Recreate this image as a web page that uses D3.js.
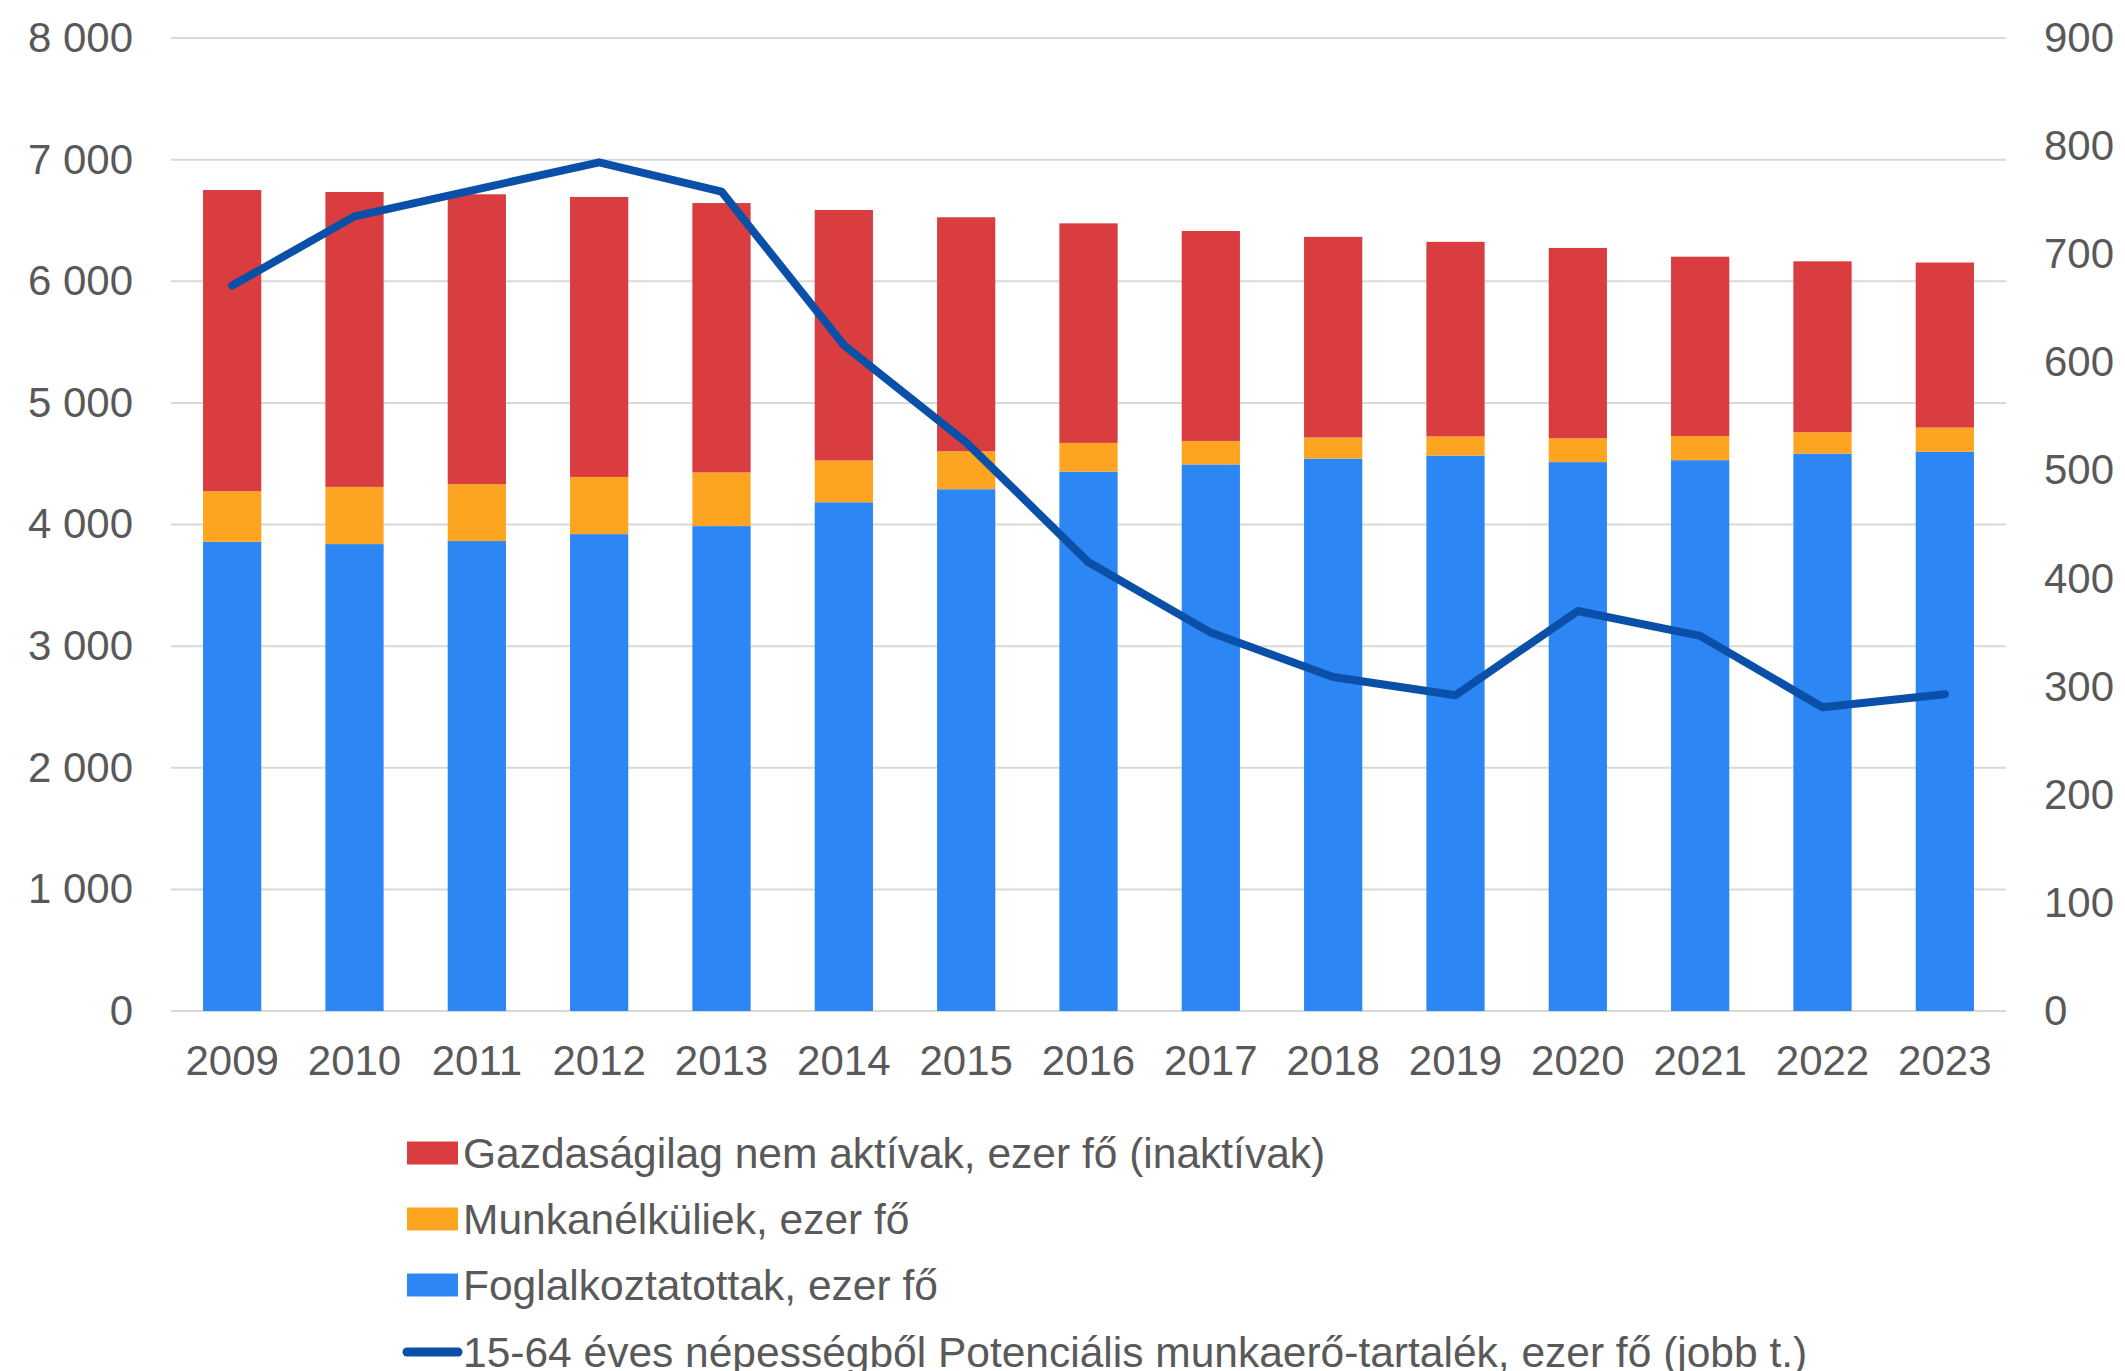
<!doctype html>
<html>
<head>
  <meta charset="UTF-8">
  <title>Munkaerőpiac</title>
  <script src="https://cdn.jsdelivr.net/npm/d3@7"></script>
  <style>
    html, body { margin: 0; padding: 0; background: #fff; overflow: hidden; }
    text { font-family: "Liberation Sans", Arial, sans-serif; fill: #595959; }
  </style>
</head>
<body>
<script>
  // data (ezer fő)
  var years = ["2009", "2010", "2011", "2012", "2013", "2014", "2015", "2016",
               "2017", "2018", "2019", "2020", "2021", "2022", "2023"];
  var employed   = [3858, 3839, 3864, 3921, 3987, 4183, 4290, 4435, 4494, 4542, 4567, 4513, 4529, 4583, 4598];
  var unemployed = [416, 470, 467, 470, 441, 343, 312, 236, 193, 173, 157, 196, 199, 176, 199];
  var inactive   = [2476, 2425, 2384, 2302, 2215, 2060, 1924, 1805, 1726, 1650, 1600, 1565, 1474, 1405, 1357];
  var reserve    = [671, 735, 760, 785, 758, 616, 526, 415, 350, 309, 292, 370, 347, 281, 293];
  var leftTicks  = [0, 1000, 2000, 3000, 4000, 5000, 6000, 7000, 8000];
  var rightTicks = [0, 100, 200, 300, 400, 500, 600, 700, 800, 900];
  var legendLabels = [
    "Gazdaságilag nem aktívak, ezer fő (inaktívak)",
    "Munkanélküliek, ezer fő",
    "Foglalkoztatottak, ezer fő",
    "15-64 éves népességből Potenciális munkaerő-tartalék, ezer fő (jobb t.)"
  ];

  var W = 2125, H = 1371;
  var plotLeft = 171, plotRight = 2006, plotTop = 38, plotBottom = 1011;
  var colors = { employed: "#2C87F5", unemployed: "#FDA521", inactive: "#D93D3F", line: "#0A50A8" };

  var loc = d3.formatLocale({ decimal: ",", thousands: " ", grouping: [3], currency: ["", ""] });
  var fmt = loc.format(",d");

  var svg = d3.select("body").append("svg")
    .attr("width", W)
    .attr("height", H);

  var x = d3.scaleBand().domain(years).range([plotLeft, plotRight]).paddingInner(0.524).paddingOuter(0.262);
  var y = d3.scaleLinear().domain([0, 8000]).range([plotBottom, plotTop]);
  var y2 = d3.scaleLinear().domain([0, 900]).range([plotBottom, plotTop]);

  // gridlines
  svg.append("g").selectAll("line").data(leftTicks).enter().append("line")
    .attr("x1", plotLeft).attr("x2", plotRight)
    .attr("y1", function(d) { return y(d); })
    .attr("y2", function(d) { return y(d); })
    .attr("stroke", "#D9D9D9")
    .attr("stroke-width", 2);

  // stacked bars
  var rows = years.map(function(yr, i) {
    return { year: yr, employed: employed[i], unemployed: unemployed[i], inactive: inactive[i] };
  });
  var stack = d3.stack().keys(["employed", "unemployed", "inactive"])(rows);

  svg.append("g").selectAll("g").data(stack).enter().append("g")
    .attr("fill", function(s) { return colors[s.key]; })
    .selectAll("rect").data(function(s) { return s; }).enter().append("rect")
    .attr("x", function(d) { return x(d.data.year); })
    .attr("width", x.bandwidth())
    .attr("y", function(d) { return y(d[1]); })
    .attr("height", function(d) { return y(d[0]) - y(d[1]); });

  // line on right axis
  var line = d3.line()
    .x(function(d, i) { return x(years[i]) + x.bandwidth() / 2; })
    .y(function(d) { return y2(d); });

  svg.append("path").datum(reserve)
    .attr("d", line)
    .attr("fill", "none")
    .attr("stroke", colors.line)
    .attr("stroke-width", 8)
    .attr("stroke-linejoin", "round")
    .attr("stroke-linecap", "round");

  // axes
  var yAxis = d3.axisLeft(y).tickValues(leftTicks).tickFormat(fmt).tickSize(0).tickPadding(38);
  var gy = svg.append("g").attr("transform", "translate(" + plotLeft + ",0)").call(yAxis);
  var y2Axis = d3.axisRight(y2).tickValues(rightTicks).tickFormat(fmt).tickSize(0).tickPadding(38);
  var gy2 = svg.append("g").attr("transform", "translate(" + plotRight + ",0)").call(y2Axis);
  var xAxis = d3.axisBottom(x).tickSize(0).tickPadding(34);
  var gx = svg.append("g").attr("transform", "translate(0," + plotBottom + ")").call(xAxis);

  [gy, gy2, gx].forEach(function(g) {
    g.select(".domain").remove();
    g.selectAll("text")
      .attr("font-size", 42)
      .attr("font-family", "'Liberation Sans', Arial, sans-serif")
      .attr("fill", "#595959");
  });

  // legend
  var legendY = [1153, 1219, 1285, 1352];
  var legendColors = [colors.inactive, colors.unemployed, colors.employed, colors.line];
  var lg = svg.append("g");
  legendLabels.forEach(function(label, i) {
    var cy = legendY[i];
    if (i < 3) {
      lg.append("rect")
        .attr("x", 407).attr("y", cy - 11.5)
        .attr("width", 51).attr("height", 23)
        .attr("fill", legendColors[i]);
    } else {
      lg.append("line")
        .attr("x1", 407).attr("x2", 458)
        .attr("y1", cy).attr("y2", cy)
        .attr("stroke", legendColors[i])
        .attr("stroke-width", 9)
        .attr("stroke-linecap", "round");
    }
    lg.append("text")
      .attr("x", 463).attr("y", cy).attr("dy", "0.35em")
      .attr("font-size", 42.5)
      .text(label);
  });
</script>
</body>
</html>
